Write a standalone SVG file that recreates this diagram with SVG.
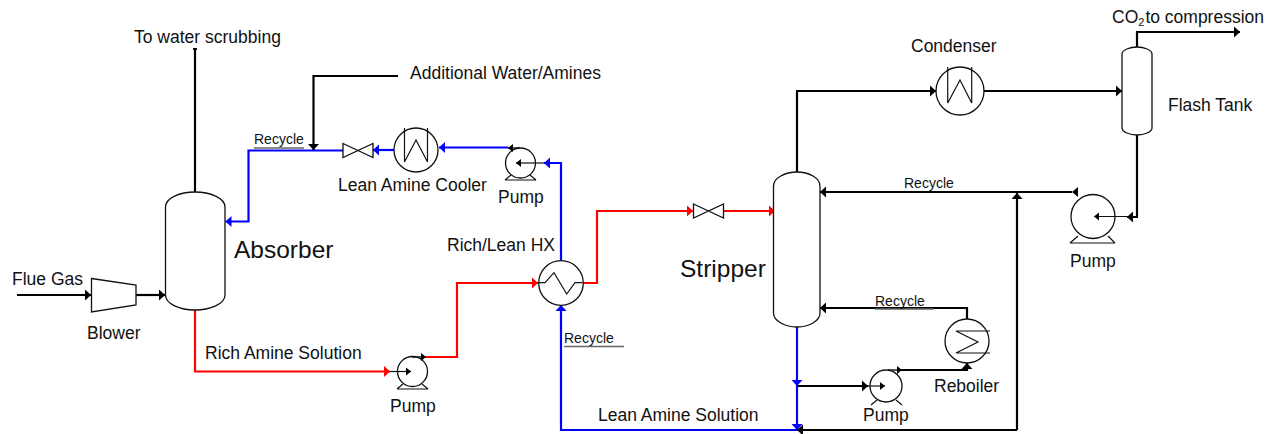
<svg xmlns="http://www.w3.org/2000/svg" width="1278" height="434" viewBox="0 0 1278 434">
<style>
text{font-family:"Liberation Sans",Arial,sans-serif;font-size:17.5px;fill:#111}
.s{font-size:14px}
.b{font-size:24.5px}
.e{fill:#fff;stroke:#111;stroke-width:1.3}
.n{fill:none;stroke:#111;stroke-width:1.2}
.k,.r,.u{fill:none;stroke-width:2.2}
.k{stroke:#000;marker-end:url(#ak)}
.r{stroke:#f00;marker-end:url(#ar)}
.u{stroke:#00f;marker-end:url(#au)}
.t{fill:none;stroke:#111;stroke-width:1.2;marker-end:url(#as)}
.o{fill:none;stroke:#111;stroke-width:1.4;marker-end:url(#as)}
.g{stroke:#666;stroke-width:1.6}
</style>
<defs>
<marker id="ak" markerUnits="userSpaceOnUse" markerWidth="7" markerHeight="12" refX="6" refY="6" orient="auto"><path d="M0 .5L6 6L0 11.500z" fill="#000"/></marker>
<marker id="ar" markerUnits="userSpaceOnUse" markerWidth="7" markerHeight="12" refX="6" refY="6" orient="auto"><path d="M0 .5L6 6L0 11.500z" fill="#f00"/></marker>
<marker id="au" markerUnits="userSpaceOnUse" markerWidth="7" markerHeight="12" refX="6" refY="6" orient="auto"><path d="M0 .5L6 6L0 11.500z" fill="#00f"/></marker>
<marker id="as" markerUnits="userSpaceOnUse" markerWidth="6" markerHeight="10" refX="5" refY="4" orient="auto"><path d="M0 0L5 4L0 8z" fill="#000"/></marker>
</defs>
<g id="connectors">
<path d="M195 192V50" fill="none" stroke="#000" stroke-width="2.200"/>
<path d="M193 50h4v-2h-4z" fill="#000"/>
<path class="k" d="M17 295H91"/>
<path class="k" d="M136 295H165"/>
<path class="r" d="M195 310V371.500H390"/>
<path class="r" d="M426 357H457V283H538"/>
<path class="r" d="M583 283H597V211H693"/>
<path class="r" d="M723 211H775"/>
<path class="u" d="M561 261V163H544"/>
<path class="u" d="M508 147.500H439"/>
<path class="u" d="M394 150H373"/>
<path class="u" d="M343 150.500H248.500V221.500H225.500"/>
<path class="k" d="M398 76H313.500V150"/>
<path class="u" d="M797 430H561V305"/>
<path class="u" d="M797 327V386"/>
<path class="u" d="M797 386V430"/>
<path class="k" d="M797 386H868"/>
<path class="k" d="M898 370H967V363"/>
<path class="k" d="M967 320V308H820"/>
<path class="k" d="M1017 430H797"/>
<path class="k" d="M1017 430V193"/>
<path class="k" d="M1072 192H820"/>
<path class="k" d="M1137 135V217H1127"/>
<path class="k" d="M797 172V91H936"/>
<path class="k" d="M984 91H1122"/>
<path class="k" d="M1137 47V32H1240"/>
<path class="g" d="M254 148H304M564 346.500H624M875 309H934"/>
</g>
<g id="absorber"><path class="e" d="M165.500 207C165.500 198 180 192 195 192C210 192 225 198 225 207V295C225 304 210 310 195 310C180 310 165.500 304 165.500 295Z"/><text x="234" y="258" class="b">Absorber</text></g>
<g id="blower"><path class="e" d="M91.500 278.500L136 285V305L91.500 312Z"/><text x="87" y="339">Blower</text></g>
<g id="flue-gas"><text x="12" y="285">Flue Gas</text></g>
<g id="scrubbing"><text x="134" y="43">To water scrubbing</text></g>
<g id="water-amines"><text x="410" y="79">Additional Water/Amines</text></g>
<g id="rich-label"><text x="205" y="359">Rich Amine Solution</text></g>
<g id="lean-label"><text x="598" y="421">Lean Amine Solution</text></g>
<g id="recycle-labels"><text x="254" y="144" class="s">Recycle</text><text x="564" y="343" class="s">Recycle</text><text x="875" y="306" class="s">Recycle</text><text x="904" y="188" class="s">Recycle</text></g>
<g id="valve-lean"><path class="e" d="M343 143.500L373 157.500V143.500L343 157.500Z"/></g>
<g id="cooler"><circle class="e" cx="416" cy="150" r="22"/><path class="n" d="M404.500 128V162L416 140L427.500 162V128"/><text x="338" y="191">Lean Amine Cooler</text></g>
<g id="pump-lean"><path class="n" d="M505 180L511 175M536 180L530 175M505 180H536"/><circle class="e" cx="520.500" cy="163" r="15"/><path class="t" d="M544 163H516"/><path class="o" d="M520 148H508"/><text x="498" y="203">Pump</text></g>
<g id="pump-rich"><path class="n" d="M397 389L403 384M422 384L428 389M397 389H428"/><circle class="e" cx="412.500" cy="371.500" r="15"/><path class="t" d="M390 371.500H411"/><path class="o" d="M412 357H426"/><text x="390" y="412">Pump</text></g>
<g id="hx"><circle class="e" cx="561" cy="283" r="22.300"/><path class="n" d="M538.500 282.700H545L554 272.700L566.700 294L575 282.700H582.500"/><text x="447" y="251">Rich/Lean HX</text></g>
<g id="valve-rich"><path class="e" d="M693.500 204L723.500 218V204L693.500 218Z"/></g>
<g id="stripper"><path class="e" d="M773.500 186C773.500 178 785 172 797 172C809 172 820 178 820 186V313C820 321 809 327 797 327C785 327 773.500 321 773.500 313Z"/><text x="680" y="277" class="b">Stripper</text></g>
<g id="pump-reboil"><path class="n" d="M871 405L877 400M896 400L902 405"/><circle class="e" cx="886" cy="386" r="16"/><path class="t" d="M868 386H885"/><path class="o" d="M888 370H902"/><text x="863" y="421">Pump</text></g>
<g id="reboiler"><circle class="e" cx="967" cy="341" r="22"/><path class="n" d="M990 331H956L978 342L956 353H990"/><text x="934" y="392">Reboiler</text></g>
<g id="condenser"><circle class="e" cx="960" cy="91" r="24"/><path class="n" d="M947.700 67V103L960 80L971.700 103V67"/><text x="911" y="52">Condenser</text></g>
<g id="flash"><path class="e" d="M1122 54C1122 50 1130 47 1137 47C1144 47 1152 50 1152 54V128C1152 132 1144 135 1137 135C1130 135 1122 132 1122 128Z"/><text x="1168" y="111">Flash Tank</text></g>
<g id="pump-flash"><path class="n" d="M1070 243L1078 236M1108 236L1115 243M1070 243H1115"/><circle class="e" cx="1093" cy="216.500" r="22"/><path class="t" d="M1128 216.500H1094"/><path d="M1078 187L1072 192L1078 197Z" fill="#000"/><text x="1070" y="267">Pump</text></g>
<g id="co2"><text x="1112" y="23">CO<tspan font-size="11" dy="3">2</tspan><tspan dy="-3" dx="1">to compression</tspan></text></g>
</svg>
